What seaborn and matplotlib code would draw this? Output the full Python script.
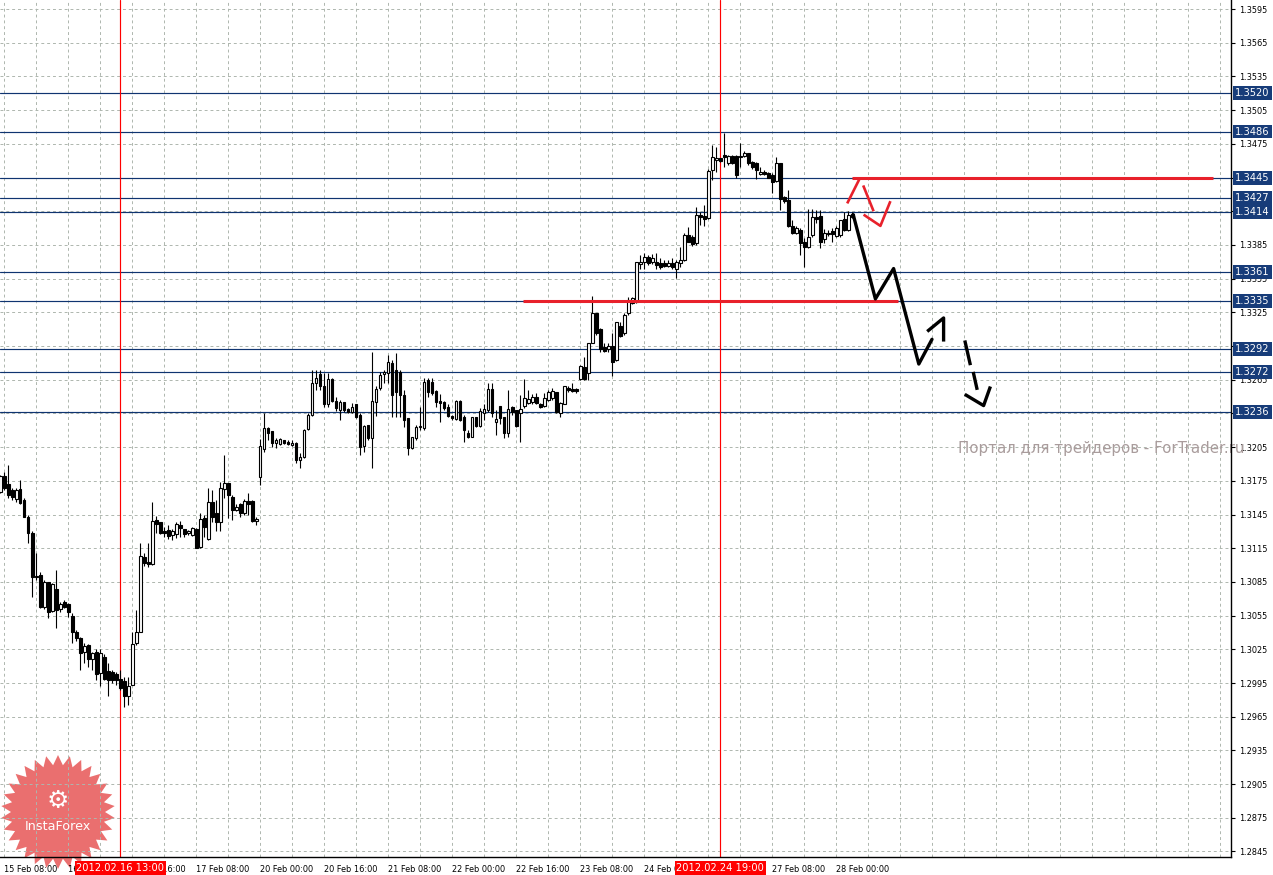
import matplotlib
matplotlib.use("Agg")
import matplotlib.pyplot as plt
import matplotlib.transforms as mtransforms
from matplotlib.patches import Polygon
import numpy as np
import pandas as pd
import seaborn as sns

# EURUSD H1, 15 Feb 07:00 -> 28 Feb 04:00 (weekend bars skipped)
opens = [
    1.3165, 1.3179, 1.3172, 1.3167, 1.3159, 1.3168, 1.3158, 1.3143, 1.3129, 1.3090,
    1.3091, 1.3063, 1.3085, 1.3059, 1.3079, 1.3061, 1.3067, 1.3065, 1.3055, 1.3040,
    1.3035, 1.3023, 1.3029, 1.3016, 1.3023, 1.3004, 1.3018, 1.3006, 1.3005, 1.3003,
    1.2999, 1.2997, 1.2983, 1.2993, 1.3031, 1.3040, 1.3107, 1.3103, 1.3101, 1.3140,
    1.3138, 1.3130, 1.3131, 1.3127, 1.3128, 1.3136, 1.3132, 1.3129, 1.3127, 1.3132,
    1.3116, 1.3142, 1.3123, 1.3156, 1.3146, 1.3138, 1.3168, 1.3173, 1.3161, 1.3149,
    1.3154, 1.3146, 1.3157, 1.3157, 1.3139, 1.3178, 1.3203, 1.3222, 1.3219, 1.3209,
    1.3208, 1.3211, 1.3210, 1.3207, 1.3209, 1.3194, 1.3196, 1.3221, 1.3234, 1.3262,
    1.3270, 1.3259, 1.3243, 1.3266, 1.3246, 1.3238, 1.3245, 1.3239, 1.3236, 1.3243,
    1.3234, 1.3206, 1.3225, 1.3213, 1.3245, 1.3258, 1.3270, 1.3271, 1.3280, 1.3274,
    1.3272, 1.3251, 1.3231, 1.3204, 1.3213, 1.3223, 1.3222, 1.3265, 1.3263, 1.3255,
    1.3246, 1.3245, 1.3241, 1.3233, 1.3230, 1.3246, 1.3232, 1.3218, 1.3214, 1.3232,
    1.3224, 1.3235, 1.3238, 1.3257, 1.3227, 1.3242, 1.3232, 1.3218, 1.3241, 1.3238,
    1.3235, 1.3242, 1.3244, 1.3245, 1.3250, 1.3243, 1.3242, 1.3247, 1.3249, 1.3254,
    1.3235, 1.3243, 1.3258, 1.3257, 1.3257, 1.3266, 1.3276, 1.3271, 1.3298, 1.3324,
    1.3310, 1.3294, 1.3292, 1.3295, 1.3283, 1.3313, 1.3307, 1.3324, 1.3333, 1.3334,
    1.3368, 1.3370, 1.3374, 1.3370, 1.3370, 1.3369, 1.3369, 1.3366, 1.3369, 1.3364,
    1.3369, 1.3372, 1.3394, 1.3392, 1.3387, 1.3412, 1.3411, 1.3409, 1.3452, 1.3461,
    1.3462, 1.3465, 1.3458, 1.3464, 1.3464, 1.3463, 1.3464, 1.3467, 1.3459, 1.3458,
    1.3448, 1.3450, 1.3449, 1.3447, 1.3442, 1.3458, 1.3428, 1.3425, 1.3402, 1.3396,
    1.3398, 1.3388, 1.3383, 1.3394, 1.3410, 1.3411, 1.3390, 1.3395, 1.3397, 1.3393,
    1.3394, 1.3408, 1.3398, 1.3410,
]
highs = [
    1.3180, 1.3183, 1.3189, 1.3169, 1.3169, 1.3176, 1.3160, 1.3145, 1.3130, 1.3111,
    1.3094, 1.3087, 1.3085, 1.3084, 1.3096, 1.3067, 1.3069, 1.3066, 1.3057, 1.3042,
    1.3036, 1.3031, 1.3030, 1.3023, 1.3025, 1.3025, 1.3021, 1.3013, 1.3007, 1.3005,
    1.3007, 1.3000, 1.3000, 1.3040, 1.3060, 1.3120, 1.3111, 1.3120, 1.3156, 1.3144,
    1.3138, 1.3134, 1.3136, 1.3132, 1.3138, 1.3139, 1.3132, 1.3131, 1.3134, 1.3133,
    1.3146, 1.3145, 1.3169, 1.3167, 1.3158, 1.3174, 1.3198, 1.3173, 1.3162, 1.3154,
    1.3155, 1.3159, 1.3164, 1.3158, 1.3143, 1.3212, 1.3235, 1.3223, 1.3219, 1.3213,
    1.3213, 1.3211, 1.3211, 1.3211, 1.3210, 1.3200, 1.3221, 1.3235, 1.3274, 1.3274,
    1.3274, 1.3271, 1.3271, 1.3267, 1.3250, 1.3247, 1.3245, 1.3240, 1.3244, 1.3243,
    1.3235, 1.3225, 1.3225, 1.3290, 1.3259, 1.3272, 1.3274, 1.3287, 1.3283, 1.3289,
    1.3274, 1.3256, 1.3231, 1.3214, 1.3225, 1.3241, 1.3267, 1.3267, 1.3267, 1.3256,
    1.3252, 1.3246, 1.3243, 1.3234, 1.3247, 1.3247, 1.3234, 1.3220, 1.3232, 1.3232,
    1.3240, 1.3243, 1.3262, 1.3262, 1.3238, 1.3242, 1.3232, 1.3256, 1.3242, 1.3238,
    1.3251, 1.3266, 1.3256, 1.3252, 1.3253, 1.3244, 1.3253, 1.3256, 1.3258, 1.3254,
    1.3245, 1.3259, 1.3259, 1.3262, 1.3258, 1.3278, 1.3285, 1.3298, 1.3340, 1.3324,
    1.3311, 1.3298, 1.3298, 1.3307, 1.3316, 1.3316, 1.3324, 1.3339, 1.3339, 1.3370,
    1.3376, 1.3378, 1.3376, 1.3377, 1.3378, 1.3373, 1.3372, 1.3372, 1.3373, 1.3372,
    1.3383, 1.3396, 1.3401, 1.3394, 1.3419, 1.3414, 1.3421, 1.3453, 1.3474, 1.3472,
    1.3462, 1.3485, 1.3465, 1.3465, 1.3465, 1.3476, 1.3469, 1.3467, 1.3460, 1.3459,
    1.3454, 1.3452, 1.3450, 1.3449, 1.3463, 1.3458, 1.3429, 1.3434, 1.3407, 1.3402,
    1.3400, 1.3391, 1.3417, 1.3417, 1.3416, 1.3416, 1.3399, 1.3398, 1.3400, 1.3402,
    1.3407, 1.3414, 1.3415, 1.3414,
]
lows = [
    1.3164, 1.3167, 1.3160, 1.3158, 1.3156, 1.3154, 1.3143, 1.3120, 1.3072, 1.3087,
    1.3062, 1.3061, 1.3053, 1.3058, 1.3044, 1.3058, 1.3062, 1.3054, 1.3031, 1.3032,
    1.3007, 1.3013, 1.3009, 1.3007, 1.2998, 1.2992, 1.2998, 1.2983, 1.2995, 1.2993,
    1.2989, 1.2974, 1.2975, 1.2993, 1.3029, 1.3040, 1.3099, 1.3098, 1.3100, 1.3129,
    1.3128, 1.3125, 1.3123, 1.3122, 1.3124, 1.3125, 1.3125, 1.3127, 1.3126, 1.3115,
    1.3115, 1.3125, 1.3122, 1.3138, 1.3130, 1.3130, 1.3160, 1.3142, 1.3140, 1.3148,
    1.3143, 1.3145, 1.3145, 1.3138, 1.3136, 1.3171, 1.3201, 1.3211, 1.3205, 1.3204,
    1.3207, 1.3208, 1.3207, 1.3206, 1.3191, 1.3186, 1.3195, 1.3220, 1.3233, 1.3256,
    1.3256, 1.3241, 1.3241, 1.3245, 1.3237, 1.3229, 1.3236, 1.3235, 1.3235, 1.3231,
    1.3198, 1.3201, 1.3211, 1.3186, 1.3233, 1.3256, 1.3262, 1.3262, 1.3232, 1.3232,
    1.3232, 1.3223, 1.3198, 1.3203, 1.3211, 1.3220, 1.3220, 1.3250, 1.3251, 1.3241,
    1.3227, 1.3238, 1.3232, 1.3229, 1.3229, 1.3228, 1.3210, 1.3213, 1.3214, 1.3223,
    1.3223, 1.3229, 1.3236, 1.3232, 1.3216, 1.3226, 1.3213, 1.3214, 1.3234, 1.3223,
    1.3210, 1.3240, 1.3243, 1.3243, 1.3243, 1.3240, 1.3241, 1.3246, 1.3247, 1.3235,
    1.3232, 1.3243, 1.3254, 1.3254, 1.3253, 1.3265, 1.3265, 1.3265, 1.3298, 1.3305,
    1.3290, 1.3290, 1.3290, 1.3268, 1.3282, 1.3303, 1.3305, 1.3323, 1.3332, 1.3333,
    1.3364, 1.3364, 1.3367, 1.3368, 1.3364, 1.3364, 1.3365, 1.3365, 1.3364, 1.3356,
    1.3365, 1.3371, 1.3388, 1.3384, 1.3385, 1.3403, 1.3402, 1.3408, 1.3443, 1.3450,
    1.3459, 1.3454, 1.3456, 1.3457, 1.3445, 1.3454, 1.3463, 1.3456, 1.3453, 1.3444,
    1.3447, 1.3447, 1.3445, 1.3431, 1.3441, 1.3416, 1.3422, 1.3401, 1.3395, 1.3395,
    1.3376, 1.3365, 1.3382, 1.3392, 1.3405, 1.3382, 1.3387, 1.3393, 1.3388, 1.3392,
    1.3392, 1.3397, 1.3397, 1.3409,
]
closes = [
    1.3179, 1.3169, 1.3162, 1.3161, 1.3167, 1.3155, 1.3143, 1.3129, 1.3089, 1.3089,
    1.3063, 1.3085, 1.3058, 1.3083, 1.3060, 1.3065, 1.3063, 1.3058, 1.3040, 1.3035,
    1.3022, 1.3028, 1.3016, 1.3022, 1.3003, 1.3022, 1.2999, 1.2998, 1.2998, 1.2998,
    1.2991, 1.2983, 1.2992, 1.3030, 1.3040, 1.3108, 1.3102, 1.3101, 1.3139, 1.3137,
    1.3129, 1.3129, 1.3126, 1.3130, 1.3137, 1.3133, 1.3128, 1.3130, 1.3133, 1.3115,
    1.3141, 1.3134, 1.3156, 1.3143, 1.3138, 1.3169, 1.3173, 1.3162, 1.3149, 1.3152,
    1.3146, 1.3157, 1.3154, 1.3139, 1.3141, 1.3206, 1.3222, 1.3218, 1.3209, 1.3211,
    1.3212, 1.3209, 1.3208, 1.3209, 1.3194, 1.3196, 1.3220, 1.3234, 1.3262, 1.3267,
    1.3259, 1.3243, 1.3266, 1.3246, 1.3240, 1.3245, 1.3238, 1.3236, 1.3241, 1.3232,
    1.3205, 1.3224, 1.3213, 1.3246, 1.3257, 1.3269, 1.3272, 1.3281, 1.3251, 1.3254,
    1.3251, 1.3229, 1.3204, 1.3214, 1.3223, 1.3224, 1.3263, 1.3254, 1.3253, 1.3245,
    1.3244, 1.3240, 1.3233, 1.3231, 1.3246, 1.3229, 1.3220, 1.3214, 1.3232, 1.3224,
    1.3237, 1.3239, 1.3257, 1.3235, 1.3230, 1.3231, 1.3218, 1.3239, 1.3236, 1.3224,
    1.3239, 1.3249, 1.3248, 1.3250, 1.3244, 1.3241, 1.3249, 1.3254, 1.3255, 1.3236,
    1.3244, 1.3259, 1.3256, 1.3255, 1.3255, 1.3277, 1.3266, 1.3298, 1.3324, 1.3307,
    1.3292, 1.3291, 1.3295, 1.3281, 1.3316, 1.3304, 1.3323, 1.3336, 1.3338, 1.3370,
    1.3370, 1.3374, 1.3369, 1.3373, 1.3367, 1.3365, 1.3366, 1.3369, 1.3365, 1.3370,
    1.3372, 1.3394, 1.3388, 1.3386, 1.3412, 1.3410, 1.3408, 1.3451, 1.3463, 1.3462,
    1.3460, 1.3463, 1.3464, 1.3458, 1.3447, 1.3464, 1.3467, 1.3458, 1.3454, 1.3452,
    1.3450, 1.3448, 1.3445, 1.3441, 1.3458, 1.3426, 1.3424, 1.3402, 1.3396, 1.3400,
    1.3387, 1.3383, 1.3392, 1.3410, 1.3408, 1.3388, 1.3396, 1.3396, 1.3395, 1.3400,
    1.3407, 1.3398, 1.3412, 1.3413,
]

# horizontal levels (blue) and marked bars (red)
levels = [1.3520, 1.3486, 1.3445, 1.3427, 1.3414, 1.3361, 1.3335, 1.3292, 1.3272, 1.3236]
marked_times = ["2012-02-16 13:00", "2012-02-24 19:00"]
red_levels = [1.3445, 1.3335]
red_level_start = [213.0, 130.75]
red_level_end = [303.25, 224.5]

# hand-drawn forecast (x in bars from the first bar)
path_x = [213.2, 218.75, 223.3, 229.6, 232.9]
path_y = [1.3412, 1.3337, 1.3364, 1.3279, 1.3301]
head1_x = [231.7, 235.8, 235.8]
head1_y = [1.3308, 1.3320, 1.3299]
dash1_x, dash1_y = [241.1, 242.5], [1.3300, 1.3278]
dash2_x, dash2_y = [243.2, 244.2], [1.3272, 1.3256]
head2_x = [241.1, 245.8, 247.5]
head2_y = [1.3252, 1.3242, 1.3259]
red_strokes = [
    ([211.7, 214.8], [1.3422, 1.3444]),
    ([215.7, 218.3], [1.3438, 1.3415]),
    ([215.8, 220.0, 222.5], [1.3412, 1.3402, 1.3424]),
]

times = pd.date_range("2012-02-15 07:00", "2012-02-28 04:00", freq="h")
times = times[times.dayofweek < 5]

NAVY = "#0f3470"
NAVY_BOX = "#173c79"
RED = "#e8212b"

sns.set_style("white")
plt.rcParams["font.family"] = ["DejaVu Sans"]

fig = plt.figure(figsize=(12.73, 8.75), dpi=100)
ax = fig.add_axes([0, 18 / 875, 1231 / 1273, 857 / 875])
ax.set_facecolor("white")

o = np.array(opens)
c = np.array(closes)
h = np.array(highs)
l = np.array(lows)
idx = np.arange(len(o))
up = c >= o

ax.vlines(idx, l, h, color="black", lw=0.8, zorder=2)
ax.bar(idx[up], (c - o)[up], bottom=o[up], width=0.55, color="white",
       edgecolor="black", lw=0.8, zorder=3)
ax.bar(idx[~up], (o - c)[~up], bottom=c[~up], width=0.55, color="black",
       edgecolor="black", lw=0.8, zorder=3)

right = mtransforms.blended_transform_factory(ax.transAxes, ax.transData)
below = mtransforms.blended_transform_factory(ax.transData, ax.transAxes)

for lv in levels:
    ax.axhline(lv, color=NAVY, lw=0.85, zorder=1.5)
    ax.text(1.0035, lv, f"{lv:.4f}", transform=right, color="white", fontsize=7.1,
            va="center", ha="left", clip_on=False, zorder=6,
            bbox=dict(boxstyle="square,pad=0.2", fc=NAVY_BOX, ec="none"))

marked_idx = []
for t in marked_times:
    ts = pd.Timestamp(t)
    k = times.get_loc(ts)
    marked_idx.append(k)
    ax.axvline(k, color="red", lw=0.85, zorder=1.6)
    ax.text(k, -0.0128, ts.strftime("%Y.%m.%d %H:%M"), transform=below, color="white",
            fontsize=7.1, ha="center", va="center", clip_on=False, zorder=6,
            bbox=dict(boxstyle="square,pad=0.18", fc="red", ec="none"))

for lv, x0, x1 in zip(red_levels, red_level_start, red_level_end):
    ax.hlines(lv, x0, x1, color=RED, lw=2.2, zorder=4)

for sx, sy in red_strokes:
    ax.plot(sx, sy, color=RED, lw=1.9, zorder=4, solid_capstyle="butt")

sns.lineplot(x=path_x, y=path_y, sort=False, estimator=None, color="black",
             lw=2.4, ax=ax, zorder=4)
for sx, sy in [(head1_x, head1_y), (dash1_x, dash1_y), (dash2_x, dash2_y), (head2_x, head2_y)]:
    ax.plot(sx, sy, color="black", lw=2.4, zorder=4, solid_capstyle="butt")

ax.text(239.3, 1.3204, "Портал для трейдеров - ForTrader.ru", color="#a99c9c",
        fontsize=10.8, ha="left", va="center", clip_on=False, zorder=1.2)

# axes, ticks, grid
ax.set_xlim(-0.1, 307.65)
ax.set_ylim(1.28401, 1.36031)
yt = np.round(np.arange(1.2845, 1.3600, 0.0030), 4)
ax.set_yticks(yt)
# price labels sitting right under a level box are hidden, as in the terminal
ax.set_yticklabels([
    "" if min(abs(v - lv) for lv in levels) < 0.0005 else f"{v:.4f}" for v in yt
])
ax.yaxis.tick_right()
xt = np.arange(1, len(times), 16)
ax.set_xticks(xt)
xlabels = []
for k in xt:
    # a time label that starts just before a marked bar is fully under its red box
    hidden = any(0 <= m - k < 8 for m in marked_idx)
    xlabels.append("" if hidden else times[k].strftime("%d %b %H:%M"))
ax.set_xticklabels(xlabels, ha="left")
ax.set_xticks(np.arange(1, 308, 8), minor=True)
ax.tick_params(axis="y", which="major", length=3, width=0.8, pad=3,
               labelsize=5.9, colors="black", direction="out")
ax.tick_params(axis="x", which="major", length=4, width=0.8, pad=2,
               labelsize=5.9, colors="black", direction="out")
ax.tick_params(axis="x", which="minor", length=0)
ax.grid(True, which="both", color="#aeb6ae", ls=(0, (3, 3)), lw=0.7)
ax.set_axisbelow(True)
for side in ["top", "left"]:
    ax.spines[side].set_visible(False)
for side in ["right", "bottom"]:
    ax.spines[side].set_visible(True)
    ax.spines[side].set_color("black")
    ax.spines[side].set_linewidth(1.0)

# InstaForex badge
n_sp = 30
ang = np.linspace(0, 2 * np.pi, 2 * n_sp, endpoint=False) + np.pi / 2
rad = np.where(np.arange(2 * n_sp) % 2 == 0, 57, 47)
bx = 58 + rad * np.cos(ang)
by = (875 - 812) + rad * np.sin(ang)
star = Polygon(np.c_[bx / 1273, by / 875], closed=True, transform=fig.transFigure,
               fc="#e23838", ec="none", alpha=0.72, clip_on=False, zorder=0.3)
ax.add_artist(star)
fig.text(58 / 1273, (875 - 801) / 875, "\u2699", color="white", fontsize=18,
         ha="center", va="center")
fig.text(58 / 1273, (875 - 827) / 875, "InstaForex", color="white", fontsize=9.2,
         ha="center", va="center")

fig.savefig("out.png", dpi=100)
